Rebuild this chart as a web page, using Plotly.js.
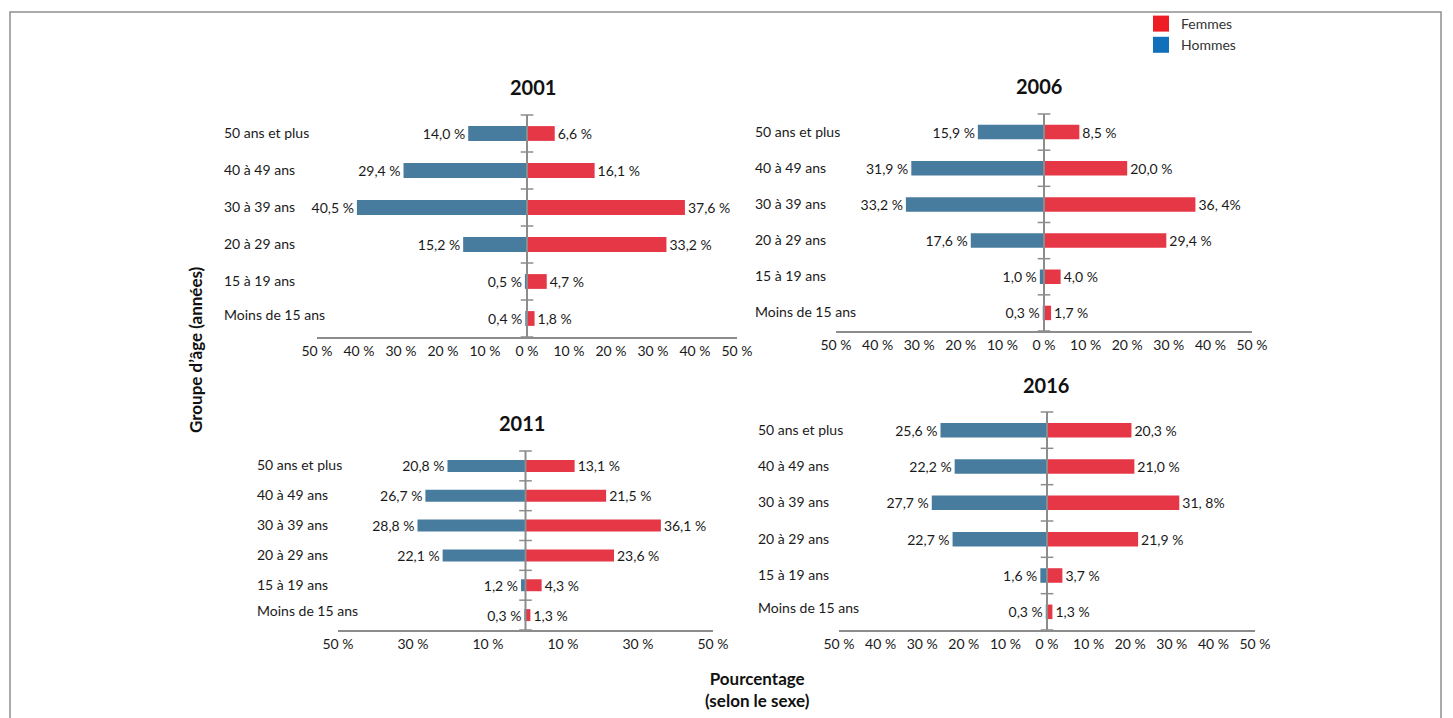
<!DOCTYPE html>
<html lang="fr">
<head>
<meta charset="utf-8">
<script src="https://cdn.plot.ly/plotly-3.0.1.min.js"></script>
<style>
  html, body { margin: 0; padding: 0; background: #ffffff; }
  #chart { width: 1453px; height: 718px; }
</style>
</head>
<body>
<div id="chart"></div>
<script>
// Age groups, listed from the bottom row to the top row
const categories = ["Moins de 15 ans", "15 à 19 ans", "20 à 29 ans", "30 à 39 ans", "40 à 49 ans", "50 ans et plus"];

// Share of each age group, by sex (%)
const femmes2001 = [1.8, 4.7, 33.2, 37.6, 16.1, 6.6];
const hommes2001 = [0.4, 0.5, 15.2, 40.5, 29.4, 14.0];
const femmes2006 = [1.7, 4.0, 29.4, 36.4, 20.0, 8.5];
const hommes2006 = [0.3, 1.0, 17.6, 33.2, 31.9, 15.9];
const femmes2011 = [1.3, 4.3, 23.6, 36.1, 21.5, 13.1];
const hommes2011 = [0.3, 1.2, 22.1, 28.8, 26.7, 20.8];
const femmes2016 = [1.3, 3.7, 21.9, 31.8, 21.0, 20.3];
const hommes2016 = [0.3, 1.6, 22.7, 27.7, 22.2, 25.6];

// Labels written differently from the usual "12,3 %" form
const labelOverrides = {
  "2006": { femmes: { 3: "36, 4%" } },
  "2016": { femmes: { 3: "31, 8%" } }
};

// Percentage axis ticks
const ticksFull = [-50, -40, -30, -20, -10, 0, 10, 20, 30, 40, 50];
const ticksOdd = [-50, -30, -10, 10, 30, 50];

const legendNames = ["Femmes", "Hommes"];

// ---- styling and placement ----
const W = 1453, H = 718;
const px = x => x / W;
const py = y => 1 - y / H;
const FONT = "Lato, 'Open Sans', sans-serif";
const TEXT = "#1a1a1a";
const GREY = "#8c8c8c";
const BLUE = "#487c9e";
const RED = "#e63747";
const FS = 14;

const panels = [
  { year: "2001", femmes: femmes2001, hommes: hommes2001, ticks: ticksFull, box: [317, 737, 115, 337], labelX: 222, titleY: 87, titleShift: 6, lowLabelLift: 4 },
  { year: "2006", femmes: femmes2006, hommes: hommes2006, ticks: ticksFull, box: [836, 1252, 114, 331], labelX: 753, titleY: 86, titleShift: -5, lowLabelLift: 1 },
  { year: "2011", femmes: femmes2011, hommes: hommes2011, ticks: ticksOdd,  box: [338, 713, 451, 630], labelX: 255, titleY: 423, titleShift: -4, lowLabelLift: 5 },
  { year: "2016", femmes: femmes2016, hommes: hommes2016, ticks: ticksFull, box: [839, 1255, 412, 630], labelX: 756, titleY: 385, titleShift: -1, lowLabelLift: 4 }
];

function fmt(v) {
  return v.toFixed(1).replace(".", ",") + "\u00a0%";
}

function labelsFor(panel, sex) {
  const over = (labelOverrides[panel.year] || {})[sex] || {};
  return panel[sex].map((v, i) => (over[i] !== undefined ? over[i] : fmt(v)));
}

const traces = [];
const layout = {
  width: W,
  height: H,
  margin: { l: 0, r: 0, t: 0, b: 0 },
  paper_bgcolor: "#ffffff",
  plot_bgcolor: "rgba(0,0,0,0)",
  font: { family: FONT, size: FS, color: TEXT },
  barmode: "overlay",
  showlegend: true,
  legend: {
    x: px(1141), xanchor: "left",
    y: py(8), yanchor: "top",
    bgcolor: "rgba(0,0,0,0)",
    font: { family: FONT, size: 14, color: "#333333" },
    traceorder: "normal",
    itemclick: false, itemdoubleclick: false
  },
  annotations: [],
  shapes: [
    {
      type: "rect", xref: "paper", yref: "paper",
      x0: px(10), x1: px(1441), y0: -0.2, y1: py(12),
      line: { color: "#8f8f8f", width: 1.5 }, fillcolor: "rgba(0,0,0,0)", layer: "below"
    }
  ]
};

const rowIdx = categories.map((_, i) => i);
const boundaries = categories.map((_, i) => i - 0.5).concat([categories.length - 0.5]);

panels.forEach((p, k) => {
  const n = k === 0 ? "" : String(k + 1);
  const xa = "x" + n, ya = "y" + n;
  const [x0, x1, yTop, yBot] = p.box;

  layout["xaxis" + n] = {
    domain: [px(x0), px(x1)],
    range: [-50, 50],
    anchor: ya,
    tickmode: "array",
    tickvals: p.ticks,
    ticktext: p.ticks.map(t => Math.abs(t) + "\u00a0%"),
    tickfont: { family: FONT, size: FS, color: TEXT },
    ticks: "",
    showgrid: false,
    zeroline: false,
    showline: true,
    linecolor: GREY,
    linewidth: 2,
    fixedrange: true
  };
  layout["yaxis" + n] = {
    domain: [py(yBot), py(yTop)],
    range: [-0.5, categories.length - 0.5],
    anchor: xa,
    showgrid: false,
    zeroline: false,
    showline: false,
    showticklabels: false,
    ticks: "",
    fixedrange: true
  };

  // Men to the left of zero
  traces.push({
    type: "bar", orientation: "h",
    x: p.hommes.map(v => -v), y: rowIdx,
    xaxis: xa, yaxis: ya,
    width: 0.4,
    marker: { color: BLUE },
    text: labelsFor(p, "hommes"),
    textposition: "outside",
    textfont: { family: FONT, size: FS, color: TEXT },
    constraintext: "none",
    cliponaxis: false,
    showlegend: false,
    hoverinfo: "skip"
  });
  // Women to the right of zero
  traces.push({
    type: "bar", orientation: "h",
    x: p.femmes, y: rowIdx,
    xaxis: xa, yaxis: ya,
    width: 0.4,
    marker: { color: RED },
    text: labelsFor(p, "femmes"),
    textposition: "outside",
    textfont: { family: FONT, size: FS, color: TEXT },
    constraintext: "none",
    cliponaxis: false,
    showlegend: false,
    hoverinfo: "skip"
  });
  // Central age axis with tick marks between the groups
  traces.push({
    type: "scatter", mode: "lines+markers",
    x: boundaries.map(() => 0), y: boundaries,
    xaxis: xa, yaxis: ya,
    line: { color: GREY, width: 2 },
    marker: { symbol: "line-ew", size: 9, line: { color: GREY, width: 1.5 } },
    cliponaxis: false,
    showlegend: false,
    hoverinfo: "skip"
  });

  // Panel title
  layout.annotations.push({
    xref: xa, yref: "paper", x: 0, y: py(p.titleY),
    xshift: p.titleShift,
    text: "<b>" + p.year + "</b>",
    showarrow: false, xanchor: "center", yanchor: "middle",
    font: { family: FONT, size: 20, color: "#111111" }
  });

  // Age group labels, left aligned
  categories.forEach((c, i) => {
    layout.annotations.push({
      xref: "paper", yref: ya, x: px(p.labelX), y: i,
      text: c, showarrow: false, xanchor: "left", yanchor: "middle",
      yshift: i === 0 ? p.lowLabelLift : 1,
      font: { family: FONT, size: FS, color: TEXT }
    });
  });
});

// Legend entries
const legendColors = ["#ee1c25", "#1170b9"];
legendNames.forEach((name, i) => {
  traces.push({
    type: "scatter", mode: "markers",
    x: [null], y: [null],
    xaxis: "x", yaxis: "y",
    name: name,
    marker: { symbol: "square", size: 16, color: legendColors[i] },
    hoverinfo: "skip"
  });
});

// Axis titles
layout.annotations.push({
  xref: "paper", yref: "paper", x: px(195), y: py(350),
  text: "<b>Groupe d’âge (années)</b>", textangle: -90,
  showarrow: false, xanchor: "center", yanchor: "middle",
  font: { family: FONT, size: 17, color: "#111111" }
});
layout.annotations.push({
  xref: "paper", yref: "paper", x: px(757), y: py(689),
  text: "<b>Pourcentage<br>(selon le sexe)</b>",
  showarrow: false, xanchor: "center", yanchor: "middle",
  font: { family: FONT, size: 17, color: "#111111" }
});

Plotly.newPlot("chart", traces, layout, { displayModeBar: false, staticPlot: true });
</script>
</body>
</html>
